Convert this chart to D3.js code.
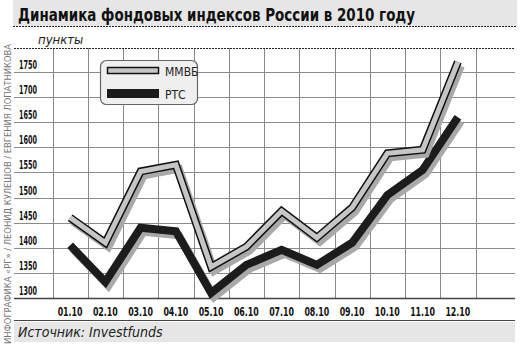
<!DOCTYPE html>
<html>
<head>
<meta charset="utf-8">
<script src="https://cdn.jsdelivr.net/npm/d3@7"></script>
<style>
  body { margin: 0; background: #fff; }
  svg { display: block; }
  .narrow { font-family: "Liberation Sans Narrow", "DejaVu Sans Condensed", "Liberation Sans", sans-serif; }
</style>
</head>
<body>
<svg id="chart"></svg>
<script>
// data
const months = ["01.10", "02.10", "03.10", "04.10", "05.10", "06.10", "07.10", "08.10", "09.10", "10.10", "11.10", "12.10"];
const mmvb = [1460, 1410, 1552, 1565, 1362, 1402, 1473, 1420, 1480, 1588, 1595, 1770];
const rts = [1405, 1332, 1440, 1433, 1310, 1366, 1396, 1366, 1410, 1505, 1555, 1660];
const yTicks = [1300, 1350, 1400, 1450, 1500, 1550, 1600, 1650, 1700, 1750];

const svgWidth = 522;
const svgHeight = 351;

const svg = d3.select("#chart")
    .attr("width", svgWidth)
    .attr("height", svgHeight);

const font = "'Liberation Sans Narrow', 'DejaVu Sans Condensed', 'Liberation Sans', sans-serif";

// title bar
svg.append("rect")
    .attr("x", 13).attr("y", 0)
    .attr("width", 504).attr("height", 26)
    .attr("fill", "#e6e6e6");
svg.append("line")
    .attr("x1", 13).attr("x2", 517)
    .attr("y1", 26.5).attr("y2", 26.5)
    .attr("stroke", "#222").attr("stroke-width", 1.2)
    .attr("stroke-dasharray", "2,1");
svg.append("text")
    .attr("x", 18).attr("y", 21)
    .attr("font-family", font)
    .attr("font-weight", "bold")
    .attr("font-size", 18)
    .attr("fill", "#111")
    .attr("textLength", 397)
    .attr("lengthAdjust", "spacingAndGlyphs")
    .text("Динамика фондовых индексов России в 2010 году");

// unit label
svg.append("text")
    .attr("x", 38).attr("y", 44)
    .attr("font-family", font)
    .attr("font-style", "italic")
    .attr("font-size", 13)
    .attr("fill", "#222")
    .text("пункты");

// credit, rotated
svg.append("text")
    .attr("transform", "translate(11, 344) rotate(-90)")
    .attr("font-family", font)
    .attr("font-size", 8.5)
    .attr("fill", "#777")
    .attr("textLength", 300)
    .attr("lengthAdjust", "spacingAndGlyphs")
    .text("ИНФОГРАФИКА «РГ» / ЛЕОНИД КУЛЕШОВ / ЕВГЕНИЯ ЛОПАТНИКОВА");

// scales
const xScale = d3.scaleBand()
    .domain(months)
    .range([52.5, 475.5])
    .padding(0);

const yScale = d3.scaleLinear()
    .domain([1300, 1750])
    .range([298, 72]);

// horizontal grid
svg.append("g")
    .selectAll("line")
    .data(yTicks.slice(1))
    .join("line")
    .attr("x1", 14).attr("x2", 515)
    .attr("y1", d => Math.round(yScale(d)) + 0.5)
    .attr("y2", d => Math.round(yScale(d)) + 0.5)
    .attr("stroke", "#8a8a8a")
    .attr("stroke-width", 1);

// vertical grid (band edges)
const edges = months.map(m => xScale(m)).concat([xScale.range()[1]]);
svg.append("g")
    .selectAll("line")
    .data(edges)
    .join("line")
    .attr("x1", d => Math.round(d) + 0.5).attr("x2", d => Math.round(d) + 0.5)
    .attr("y1", 48).attr("y2", 298)
    .attr("stroke", "#8a8a8a")
    .attr("stroke-width", 1);

// top rule under the unit label
svg.append("line")
    .attr("x1", 14).attr("x2", 515)
    .attr("y1", 48.5).attr("y2", 48.5)
    .attr("stroke", "#222").attr("stroke-width", 1.2)
    .attr("stroke-dasharray", "2,1");

// baseline
svg.append("line")
    .attr("x1", 14).attr("x2", 515)
    .attr("y1", Math.round(yScale(1300)) + 0.5)
    .attr("y2", Math.round(yScale(1300)) + 0.5)
    .attr("stroke", "#444").attr("stroke-width", 1.3);

// y tick labels (sit above their gridline)
svg.append("g")
    .selectAll("text")
    .data(yTicks)
    .join("text")
    .attr("x", 19)
    .attr("y", d => yScale(d) - 3)
    .attr("font-family", font)
    .attr("font-weight", "bold")
    .attr("font-size", 12)
    .attr("fill", "#111")
    .attr("textLength", 18)
    .attr("lengthAdjust", "spacingAndGlyphs")
    .text(d => d);

// x axis labels
const xAxis = d3.axisBottom(xScale).tickSize(0).tickPadding(0);
const xg = svg.append("g")
    .attr("transform", "translate(0, 307)")
    .call(xAxis);
xg.select(".domain").remove();
xg.selectAll("text")
    .attr("font-family", font)
    .attr("font-weight", "bold")
    .attr("font-size", 12)
    .attr("fill", "#111")
    .attr("textLength", 25)
    .attr("lengthAdjust", "spacingAndGlyphs");

// lines
const line = d3.line()
    .x((d, i) => xScale(months[i]) + xScale.bandwidth() / 2)
    .y(d => yScale(d));

function drawSeries(values, outer, inner) {
    const g = svg.append("g");
    g.append("path")
        .datum(values)
        .attr("d", line)
        .attr("transform", "translate(3, 4)")
        .attr("fill", "none")
        .attr("stroke", "#a9a9a9")
        .attr("stroke-width", 8)
        .attr("stroke-linejoin", "miter");
    g.append("path")
        .datum(values)
        .attr("d", line)
        .attr("fill", "none")
        .attr("stroke", outer)
        .attr("stroke-width", 8)
        .attr("stroke-linejoin", "miter");
    if (inner) {
        g.append("path")
            .datum(values)
            .attr("d", line)
            .attr("fill", "none")
            .attr("stroke", inner)
            .attr("stroke-width", 5)
            .attr("stroke-linejoin", "miter");
    }
}

drawSeries(rts, "#1c1c1c", null);
drawSeries(mmvb, "#111", "#c6c6c6");

// legend
const legend = svg.append("g").attr("transform", "translate(100, 60)");
legend.append("rect")
    .attr("x", 0.5).attr("y", 0.5)
    .attr("width", 97).attr("height", 44)
    .attr("rx", 6)
    .attr("fill", "#efefef")
    .attr("stroke", "#666")
    .attr("stroke-width", 1.2);
legend.append("rect")
    .attr("x", 7.5).attr("y", 7.5)
    .attr("width", 51).attr("height", 6)
    .attr("fill", "#c6c6c6")
    .attr("stroke", "#111")
    .attr("stroke-width", 1.5);
legend.append("rect")
    .attr("x", 7).attr("y", 29)
    .attr("width", 52).attr("height", 9)
    .attr("fill", "#1c1c1c");
legend.append("text")
    .attr("x", 65).attr("y", 16)
    .attr("font-family", font)
    .attr("font-size", 12)
    .attr("fill", "#222")
    .text("ММВБ");
legend.append("text")
    .attr("x", 65).attr("y", 39)
    .attr("font-family", font)
    .attr("font-size", 12)
    .attr("fill", "#222")
    .text("РТС");

// source bar
svg.append("line")
    .attr("x1", 14).attr("x2", 515)
    .attr("y1", 320.5).attr("y2", 320.5)
    .attr("stroke", "#444").attr("stroke-width", 1.2);
svg.append("rect")
    .attr("x", 14).attr("y", 322)
    .attr("width", 501).attr("height", 20)
    .attr("fill", "#e6e6e6");
svg.append("text")
    .attr("x", 18).attr("y", 337)
    .attr("font-family", font)
    .attr("font-style", "italic")
    .attr("font-size", 14)
    .attr("fill", "#222")
    .text("Источник: Investfunds");
</script>
</body>
</html>
